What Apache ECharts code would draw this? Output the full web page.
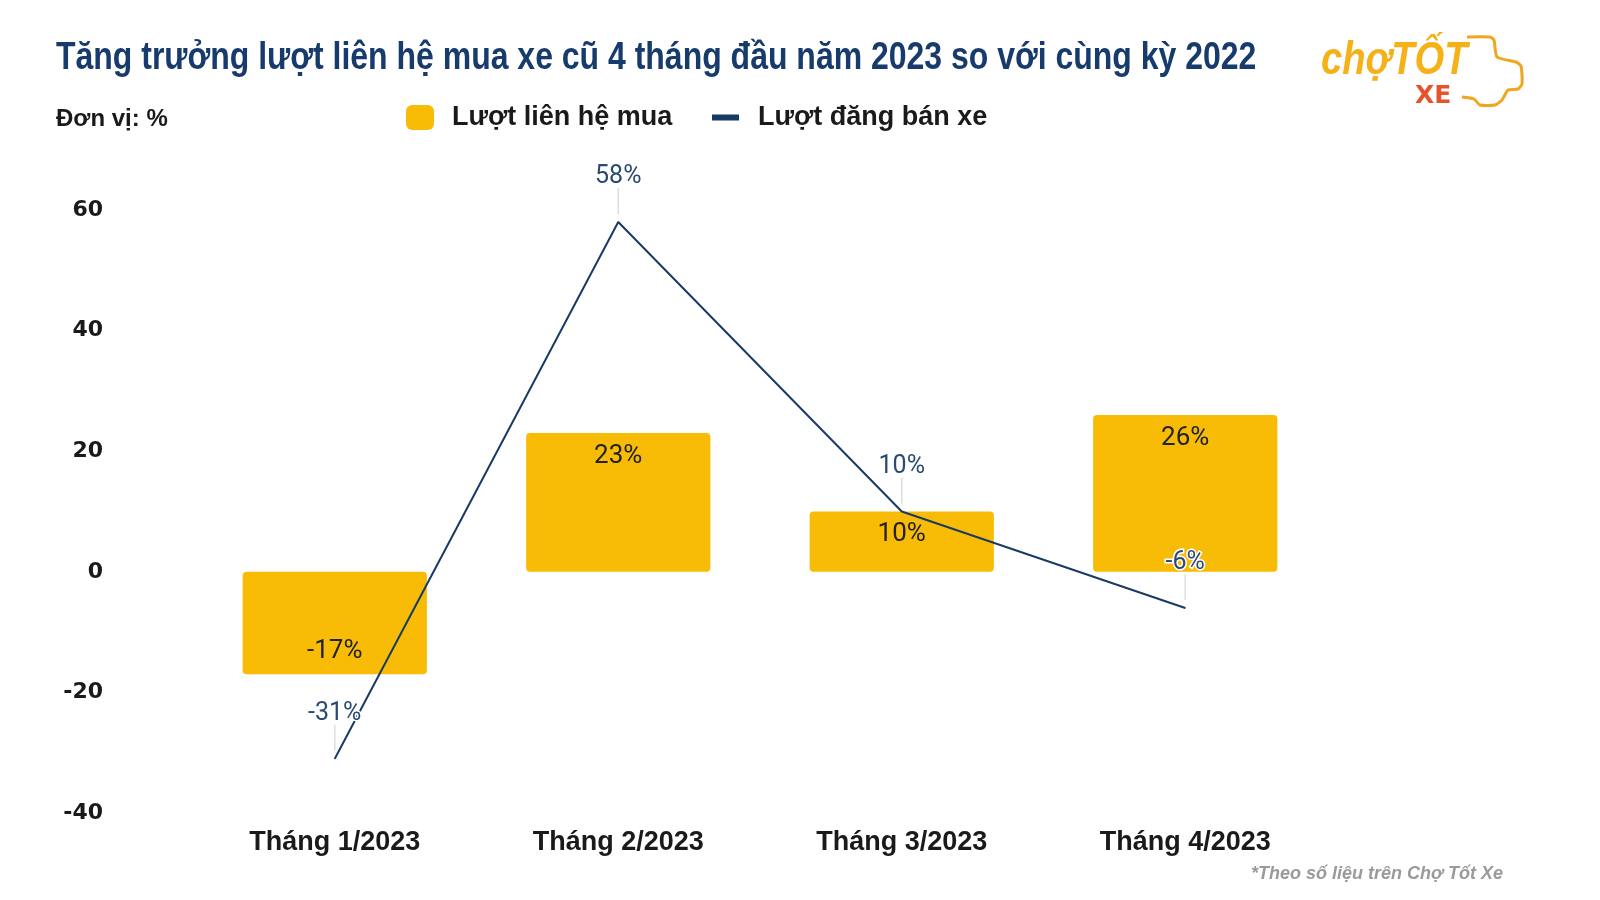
<!DOCTYPE html>
<html>
<head>
<meta charset="utf-8">
<script src="https://cdn.jsdelivr.net/npm/echarts@6/dist/echarts.min.js"></script>
<style>html,body{margin:0;padding:0;background:#fff;}#c{width:1600px;height:900px;}</style>
</head>
<body>
<div id="c"></div>
<script>
const categories = ['Tháng 1/2023', 'Tháng 2/2023', 'Tháng 3/2023', 'Tháng 4/2023'];
const contactValues = [-17, 23, 10, 26];
const listingValues = [-31, 58, 10, -6];
const yTicks = { min: -40, max: 60, interval: 20 };
const seriesNames = ['Lượt liên hệ mua', 'Lượt đăng bán xe'];
const titleText = 'Tăng trưởng lượt liên hệ mua xe cũ 4 tháng đầu năm 2023 so với cùng kỳ 2022';
const unitText = 'Đơn vị: %';
const noteText = '*Theo số liệu trên Chợ Tốt Xe';

const chart = echarts.init(document.getElementById('c'));
const barData = contactValues.map(v => ({
  value: v,
  label: { position: v >= 0 ? 'insideTop' : 'insideBottom' }
}));

chart.setOption({
  backgroundColor: '#fff',
  animation: false,
  legend: [{
    data: [{ name: seriesNames[0], icon: 'roundRect' }],
    left: 406, top: 104, padding: 0, itemWidth: 28, itemHeight: 25,
    textStyle: { fontFamily: 'Liberation Sans', fontWeight: 'bold', fontSize: 27, color: '#1a1a1a', padding: [0, 0, 0, 13] }
  }, {
    data: [{ name: seriesNames[1], icon: 'rect' }],
    left: 712, top: 104, padding: 0, itemWidth: 27, itemHeight: 6,
    textStyle: { fontFamily: 'Liberation Sans', fontWeight: 'bold', fontSize: 27, color: '#1a1a1a', padding: [0, 0, 0, 14] }
  }],
  grid: { left: 193, right: 273, top: 210, bottom: 87, containLabel: false },
  xAxis: {
    type: 'category', data: categories,
    axisLine: { show: false }, axisTick: { show: false },
    axisLabel: { margin: 16, fontFamily: 'Liberation Sans', fontWeight: 'bold', fontSize: 27, color: '#1a1a1a' }
  },
  yAxis: {
    type: 'value', min: yTicks.min, max: yTicks.max, interval: yTicks.interval,
    axisLine: { show: false }, axisTick: { show: false }, splitLine: { show: false },
    axisLabel: { margin: 90, fontFamily: 'DejaVu Sans', fontWeight: 'bold', fontSize: 22, color: '#1a1a1a' }
  },
  series: [{
    name: seriesNames[0], type: 'bar', data: barData, barWidth: '65%',
    itemStyle: { color: '#F9BC06', borderRadius: 4 },
    label: {
      show: true, distance: 10, formatter: '{c}%',
      fontFamily: 'Roboto', fontSize: 26, color: '#222'
    },
    z: 1
  }, {
    type: 'custom', data: listingValues, silent: true, z: 2,
    renderItem: function (params, api) {
      const p = api.coord([api.value(0), api.value(1)]);
      return { type: 'line', shape: { x1: p[0], y1: p[1] - 8, x2: p[0], y2: p[1] - 34 },
        style: { stroke: '#dedede', lineWidth: 1.5 } };
    },
    encode: { x: 0, y: 1 }
  }, {
    name: seriesNames[1], type: 'line', data: listingValues,
    symbol: 'circle', symbolSize: 1, showSymbol: true,
    lineStyle: { color: '#173B66', width: 2 }, itemStyle: { color: '#173B66' },
    label: {
      show: true, position: 'top', distance: 32, formatter: '{c}%',
      fontFamily: 'Roboto', fontSize: 25, color: '#2B4A72',
      textBorderColor: '#fff', textBorderWidth: 3
    },
    z: 3
  }],
  graphic: [
    { type: 'text', x: 56, y: 58, scaleX: 0.82, style: { text: titleText, x: 0, y: 0, align: 'left', verticalAlign: 'middle', fontFamily: 'Liberation Sans', fontWeight: 'bold', fontSize: 39, fill: '#173B6C' } },
    { type: 'text', left: 56, top: 107, style: { text: unitText, fontFamily: 'Liberation Sans', fontWeight: 'bold', fontSize: 24, fill: '#1a1a1a' } },
    { type: 'text', right: 97, top: 865, style: { text: noteText, fontFamily: 'Liberation Sans', fontWeight: 'bold', fontStyle: 'italic', fontSize: 18, fill: '#9a9a9a' } },
    { type: 'text', x: 1321, y: 61, scaleX: 0.83, style: { text: 'chợTỐT', x: 0, y: 0, align: 'left', verticalAlign: 'middle', fontFamily: 'Liberation Sans', fontWeight: 'bold', fontStyle: 'italic', fontSize: 46, fill: '#F6B118' } },
    { type: 'text', left: 1415, top: 84, style: { text: 'XE', fontFamily: 'DejaVu Sans', fontWeight: 'bold', fontSize: 25, fill: '#E8522A' } },
    { type: 'polyline', shape: { points: [[1467,37],[1490,37],[1494,40],[1497,57],[1516,62],[1521,66],[1522,84],[1518,89],[1508,90],[1502,100],[1495,105],[1480,105],[1474,99],[1462,97]], smooth: 0.2 },
      style: { stroke: '#F2A51E', lineWidth: 3, fill: null } }
  ]
});
</script>
</body>
</html>
